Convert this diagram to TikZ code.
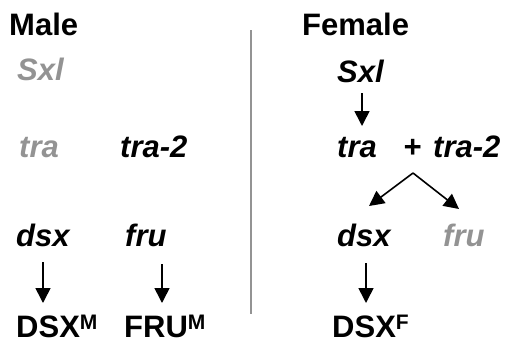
\documentclass[tikz,border=0pt]{standalone}
\usepackage{fontspec}
\setmainfont{Liberation Sans}
\usetikzlibrary{arrows.meta}
\newcommand{\supM}[1]{\raisebox{7.5pt}{\fontsize{21}{21}\selectfont #1}}
\tikzset{
  lbl/.style={anchor=base west, inner sep=0pt, text depth=0pt, font=\fontsize{31}{31}\selectfont\bfseries},
  gene/.style={lbl, font=\fontsize{31}{31}\selectfont\bfseries\itshape},
  off/.style={text=gray!85},
  arr/.style={draw, line width=1.6pt, -{Triangle[length=15pt,width=15pt]}},
  divider/.style={draw=gray!85, line width=2pt}
}
\begin{document}
\begin{tikzpicture}[x=1pt,y=-1pt]
\useasboundingbox (0,0) rectangle (516,343);
% Male
\node[lbl] (male) at (9,35) {Male};
\node[gene,off] (msxl) at (17,80) {Sxl};
\node[gene,off] (mtra) at (19,157) {tra};
\node[gene] (mtra2) at (120,157) {tra-2};
\node[gene] (mdsx) at (16,246) {dsx};
\node[gene] (mfru) at (125,246) {fru};
\node[lbl] (mDSX) at (16,337) {DSX\supM{M}};
\node[lbl] (mFRU) at (124,337) {FRU\supM{M}};
\coordinate (ma1) at (43,262);
\coordinate (ma2) at (43,303);
\coordinate (mb1) at (162,264);
\coordinate (mb2) at (162,303);
\draw[arr] (ma1) -- (ma2);
\draw[arr] (mb1) -- (mb2);
% divider
\coordinate (d1) at (251,30);
\coordinate (d2) at (251,314);
\draw[divider] (d1) -- (d2);
% Female
\node[lbl] (female) at (302,35) {Female};
\node[gene] (fsxl) at (337,82) {Sxl};
\node[gene] (ftra) at (337,157) {tra};
\node[gene] (plus) at (403,157) {+};
\node[gene] (ftra2) at (433,157) {tra-2};
\node[gene] (fdsx) at (337,246) {dsx};
\node[gene,off] (ffru) at (443,246) {fru};
\node[lbl] (fDSX) at (332,337) {DSX\supM{F}};
\coordinate (fa1) at (362,93);
\coordinate (fa2) at (362,126);
\coordinate (apex) at (413,173);
\coordinate (fl) at (369,206);
\coordinate (fr) at (459,209);
\coordinate (fb1) at (366,263);
\coordinate (fb2) at (366,303);
\draw[arr] (fa1) -- (fa2);
\draw[arr] (apex) -- (fl);
\draw[arr] (apex) -- (fr);
\draw[arr] (fb1) -- (fb2);
\end{tikzpicture}
\end{document}
